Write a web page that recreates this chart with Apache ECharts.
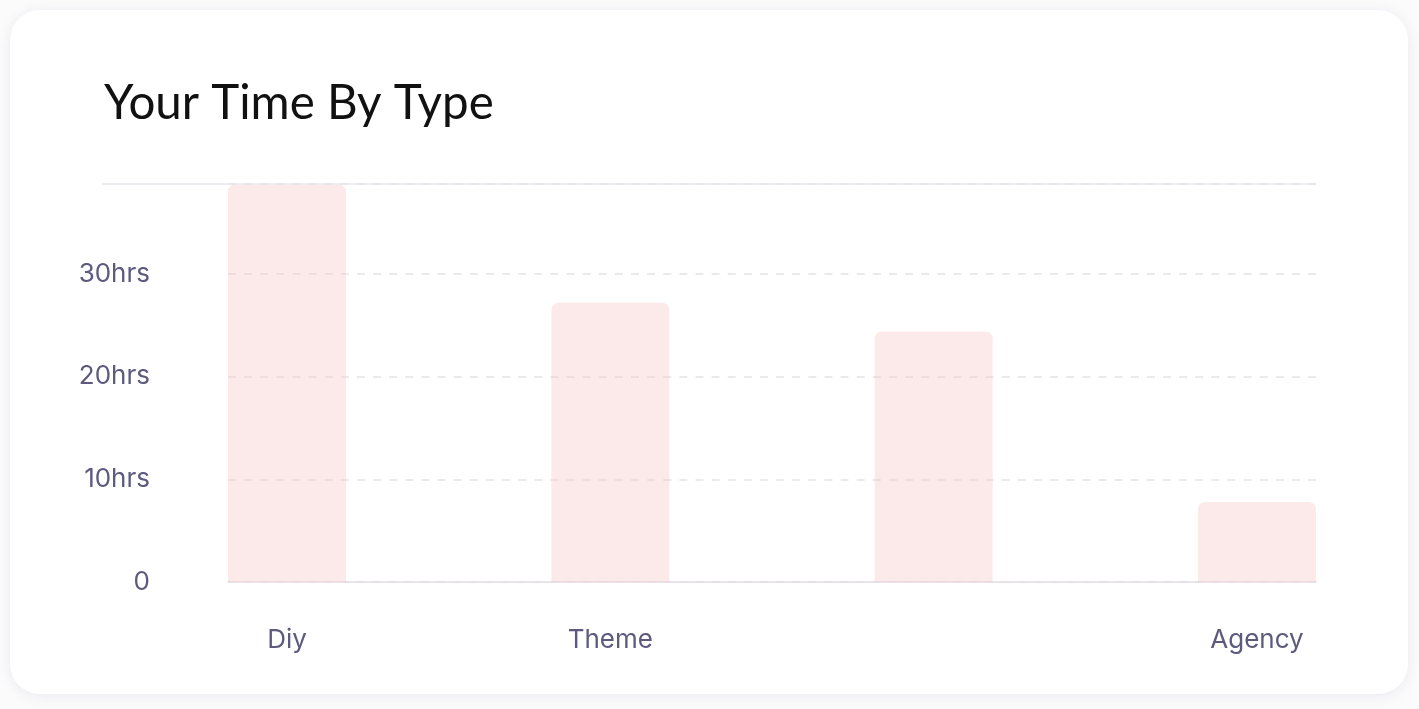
<!DOCTYPE html>
<html>
<head>
<meta charset="utf-8">
<script src="https://cdn.jsdelivr.net/npm/echarts@6/dist/echarts.min.js"></script>
<style>
html,body{margin:0;padding:0;background:#fbfbfc;}
#c{width:1419px;height:709px;}
</style>
</head>
<body>
<div id="c"></div>
<script>
const categories = ['Diy', 'Theme', '', 'Agency'];
const hours = [38.7, 27.2, 24.4, 7.8];
const yTicks = [0, 10, 20, 30];
const yMax = 38.75;
const titleText = 'Your Time By Type';

const chart = echarts.init(document.getElementById('c'));
const labelColor = '#5d5a7f';
const fmt = v => (yTicks.indexOf(v) === -1 ? '' : (v === 0 ? '0' : v + 'hrs'));

chart.setOption({
  backgroundColor: '#fbfbfc',
  animation: false,
  graphic: [
    { type: 'rect', z: -10, shape: { x: 10, y: 10, width: 1398, height: 684, r: 30 },
      style: { fill: '#ffffff', shadowBlur: 14, shadowColor: 'rgba(40,30,60,0.08)', shadowOffsetY: 2 } },
    { type: 'text', left: 104, top: 80, z: 10,
      style: { text: titleText, fontFamily: 'Lato', fontSize: 47.5, fill: '#111111', fontWeight: 400 } },
    { type: 'line', z: 10, shape: { x1: 102, y1: 184, x2: 1316, y2: 184 },
      style: { stroke: '#e7e5ea', lineWidth: 1.5 } }
  ],
  grid: [
    { left: 228, right: 103, top: 184, bottom: 127 },
    { left: 287, right: 162, top: 184, bottom: 127 }
  ],
  xAxis: [
    { type: 'category', gridIndex: 0, data: categories, show: true,
      axisLine: { show: true, lineStyle: { color: '#e2dde7', width: 1.5 } },
      axisTick: { show: false }, axisLabel: { show: false }, splitLine: { show: false } },
    { type: 'category', gridIndex: 1, data: categories, boundaryGap: false,
      axisLine: { show: false }, axisTick: { show: false },
      axisLabel: { color: labelColor, fontSize: 26, fontFamily: 'Inter', margin: 45 } }
  ],
  yAxis: [
    { type: 'value', gridIndex: 0, min: 0, max: yMax, interval: 10,
      axisLine: { show: false }, axisTick: { show: false },
      axisLabel: { color: labelColor, fontSize: 26, fontFamily: 'Inter', margin: 78, formatter: fmt },
      splitLine: { show: true, lineStyle: { color: '#e6e2e6', type: [8, 8.12], width: 1.5 } } },
    { type: 'value', gridIndex: 1, min: 0, max: yMax, interval: 10, show: false, splitLine: { show: false } }
  ],
  series: [
    { type: 'bar', xAxisIndex: 1, yAxisIndex: 1, data: hours, barWidth: 118, z: 1,
      itemStyle: { color: 'rgba(246,200,200,0.38)', borderRadius: [7, 7, 0, 0] } }
  ]
});
</script>
</body>
</html>
